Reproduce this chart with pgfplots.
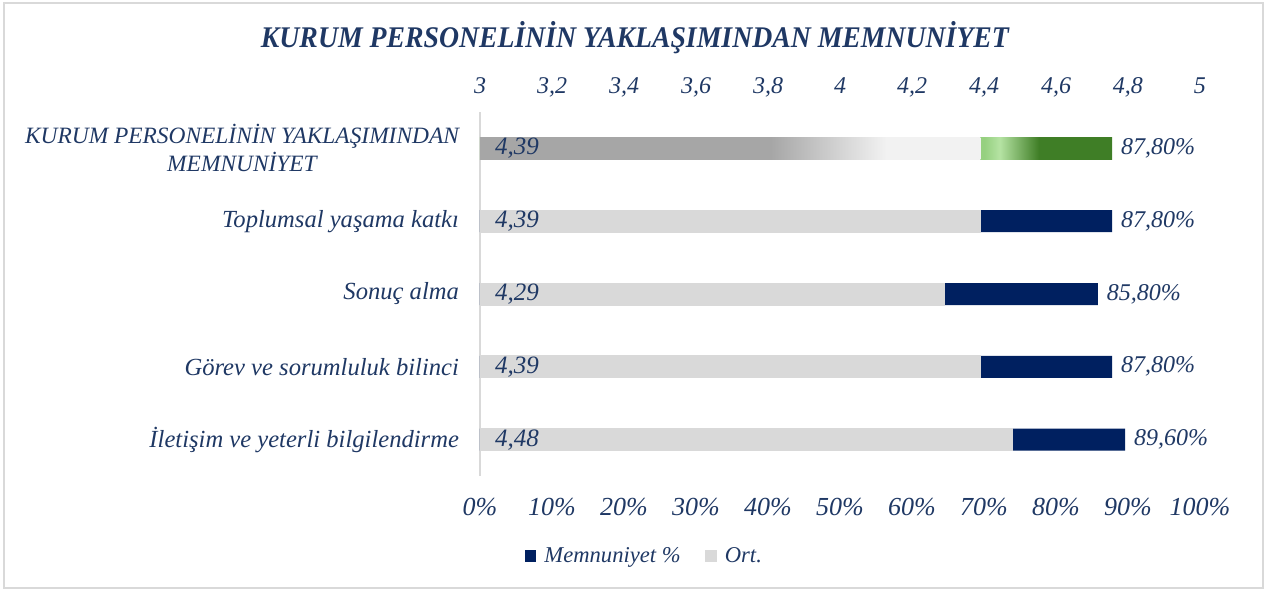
\documentclass[border=0pt]{standalone}
\usepackage{fontspec}
\setmainfont{Liberation Serif}
\usepackage{pgfplots}
\usepackage{pgfplotstable}
\pgfplotsset{compat=1.18}
\pgfkeys{/pgf/number format/assume math mode=true}

\definecolor{txt}{RGB}{31,56,100}
\definecolor{navy}{RGB}{0,32,96}
\definecolor{ortgrey}{RGB}{217,217,217}
\definecolor{dgrey}{RGB}{166,166,166}
\definecolor{lgrey}{RGB}{242,242,242}
\definecolor{gmid}{RGB}{150,208,128}
\definecolor{glight}{RGB}{181,227,163}
\definecolor{gdark}{RGB}{63,126,38}

% the visible bar maps to 25bp..75bp of the shading
\pgfdeclarehorizontalshading{ortshade}{100bp}{color(0bp)=(dgrey); color(54bp)=(dgrey); color(65.6bp)=(lgrey); color(100bp)=(lgrey)}
\pgfdeclarehorizontalshading{memshade}{100bp}{color(0bp)=(gmid); color(64.9bp)=(gmid); color(66.1bp)=(glight); color(69.2bp)=(gdark); color(100bp)=(gdark)}

\pgfplotstableread{
row mem ort
0 87.8 4.39
1 87.8 4.39
2 85.8 4.29
3 87.8 4.39
4 89.6 4.48
}\datatable

\tikzset{lbl/.style={text=txt, font=\itshape\fontsize{12}{14}\selectfont,
  /pgf/number format/fixed, /pgf/number format/fixed zerofill,
  /pgf/number format/precision=2, /pgf/number format/use comma}}

\pgfplotsset{
  base/.style={
    scale only axis, width=360pt, height=182pt,
    at={(240pt,57.5pt)}, anchor=south west,
    ymin=-0.5, ymax=4.5, y dir=reverse,
    major tick length=0pt,
    ticklabel style={text=txt, font=\itshape\fontsize{12.3}{14}\selectfont},
  },
  bars/.style={xbar, bar shift=0pt, bar width=11pt, draw=none},
  sqlegend/.style={legend image code/.code={\fill[##1] (0pt,-2.8pt) rectangle (5.6pt,2.8pt);}},
}

\begin{document}
\begin{tikzpicture}
\path[use as bounding box] (0,0) rectangle (633pt,295.5pt);
\draw[ortgrey, line width=1pt] (2pt,1.5pt) rectangle (631.5pt,294pt);

\node[text=txt, font=\bfseries\itshape\fontsize{15}{18}\selectfont, xscale=0.925, transform shape]
  at (317.5pt,276.5pt) {KURUM PERSONELİNİN YAKLAŞIMINDAN MEMNUNİYET};

% Memnuniyet % on the 0-100 axis (bottom)
\begin{axis}[base,
    xmin=0, xmax=100,
    xtick={0,10,...,100},
    xticklabel={\pgfmathprintnumber{\tick}\%},
    xticklabel style={yshift=-7.5pt, font=\itshape\fontsize{13}{15}\selectfont},
    axis lines*=left,
    x axis line style={draw=none},
    y axis line style={draw=ortgrey, line width=0.8pt},
    ytick={0,...,4},
    yticklabels={{\fontsize{11.7}{14}\selectfont KURUM PERSONELİNİN YAKLAŞIMINDAN\\\fontsize{11.7}{14}\selectfont MEMNUNİYET},
      Toplumsal yaşama katkı, Sonuç alma,
      Görev ve sorumluluk bilinci, İletişim ve yeterli bilgilendirme},
    yticklabel style={align=center, xshift=-7pt},
]
\addplot[bars, fill=navy, skip coords between index={0}{1},
  nodes near coords={\pgfmathprintnumber{\pgfplotspointmeta}\%},
  nodes near coords style={lbl, anchor=west, xshift=1pt}]
  table[x=mem, y=row] {\datatable};
\addplot[bars, shading=memshade, skip coords between index={1}{5},
  nodes near coords={\pgfmathprintnumber{\pgfplotspointmeta}\%},
  nodes near coords style={lbl, anchor=west, xshift=1pt}]
  table[x=mem, y=row] {\datatable};
\end{axis}

% Ort. on the 3-5 axis (top)
\begin{axis}[base,
    xmin=3, xmax=5,
    xtick={3,3.2,...,5.01},
    axis x line*=top,
    x axis line style={draw=none},
    axis y line=none, ytick=\empty,
    xticklabel style={/pgf/number format/use comma, yshift=3pt,
      text height=8pt, text depth=2.5pt, font=\itshape\fontsize{12}{14}\selectfont},
    legend style={at={(0.23,-0.22)}, anchor=center, draw=none, fill=none,
      text=txt, font=\itshape\fontsize{11.3}{13}\selectfont,
      /tikz/every odd column/.append style={column sep=2pt},
      /tikz/every even column/.append style={column sep=10pt}},
    legend columns=2,
]
\addlegendimage{area legend, fill=navy, draw=none, sqlegend}
\addlegendentry{Memnuniyet \%}
\addplot[bars, fill=ortgrey, draw=ortgrey, line width=0.5pt, skip coords between index={0}{1}, sqlegend]
  table[x=ort, y=row] {\datatable};
\addlegendentry{Ort.}
\addplot[bars, shading=ortshade, skip coords between index={1}{5}, forget plot]
  table[x=ort, y=row] {\datatable};
\addplot[draw=none, mark=none, forget plot, point meta=\thisrow{ort},
  nodes near coords={\pgfmathprintnumber{\pgfplotspointmeta}},
  nodes near coords style={lbl, anchor=west, xshift=4pt, font=\itshape\fontsize{12.5}{14}\selectfont}]
  table[x expr=3, y=row] {\datatable};
\end{axis}
\end{tikzpicture}
\end{document}
